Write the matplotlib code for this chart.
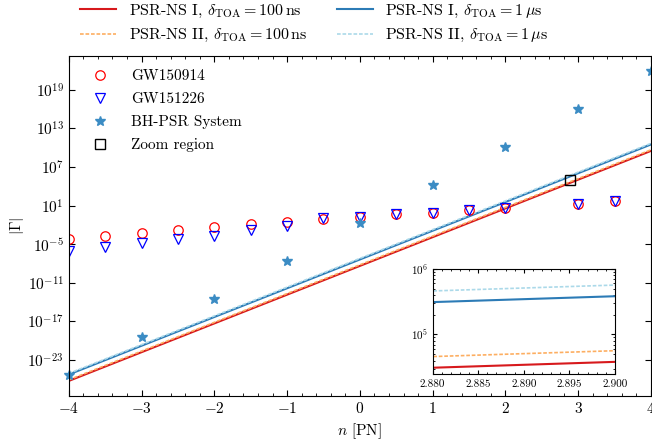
import numpy as np
import matplotlib
matplotlib.use("Agg")
import matplotlib.pyplot as plt
from matplotlib.ticker import FixedLocator, NullLocator, MultipleLocator, FormatStrFormatter

plt.rcParams['font.family'] = 'serif'
plt.rcParams['font.serif'] = ['cmr10']
plt.rcParams['mathtext.fontset'] = 'cm'
plt.rcParams['axes.formatter.use_mathtext'] = True
plt.rcParams['axes.unicode_minus'] = True

# GW events (log10 |Gamma|)
n_gw = [-4, -3.5, -3, -2.5, -2, -1.5, -1, -0.5, 0, 0.5, 1, 1.5, 2, 3, 3.5]
log_gw150914 = [-4.19, -3.67, -3.25, -2.84, -2.37, -1.90, -1.54, -1.12, -0.71, -0.34, -0.09, 0.33, 0.62, 1.30, 1.75]
log_gw151226 = [-6.00, -5.48, -4.86, -4.24, -3.67, -2.78, -2.11, -0.97, -0.72, -0.28, -0.09, 0.30, 0.62, 1.28, 1.75]

# BH-PSR system
n_bhpsr = [-4, -3, -2, -1, 0, 1, 2, 3, 4]
log_bhpsr = [-25.26, -19.4, -13.53, -7.57, -1.65, 4.22, 10.1, 16.0, 21.9]

# PSR-NS bounds (endpoints at n = -4 and n = 4)
n_line = [-4, 4]
log_psrns1_100ns = [-26.26, 9.50]
log_psrns2_100ns = [-26.09, 9.67]
log_psrns1_1us = [-25.26, 10.50]
log_psrns2_1us = [-25.09, 10.67]

# zoom region marker
n_zoom = [2.89]
log_zoom = [5.0]

c_red = '#d7191c'
c_orange = '#fdae61'
c_blue = '#2c7bb6'
c_lblue = '#abd9e9'
c_star = '#3b8cc4'
dash = (0, (2.2, 1.1))

fig = plt.figure(figsize=(6.52, 4.43), dpi=100)
ax = fig.add_axes([0.1054, 0.1068, 0.893, 0.7675])


def pw(v):
    return 10.0 ** np.array(v)


def draw_lines(a):
    l1, = a.plot(n_line, pw(log_psrns1_100ns), color=c_red, lw=1.5,
                 label=r'PSR-NS I, $\delta_{\rm TOA} = 100\,{\rm ns}$')
    l2, = a.plot(n_line, pw(log_psrns2_100ns), color=c_orange, lw=1.2, ls=dash,
                 label=r'PSR-NS II, $\delta_{\rm TOA} = 100\,{\rm ns}$')
    l3, = a.plot(n_line, pw(log_psrns1_1us), color=c_blue, lw=1.5,
                 label=r'PSR-NS I, $\delta_{\rm TOA} = 1\,\mu{\rm s}$')
    l4, = a.plot(n_line, pw(log_psrns2_1us), color=c_lblue, lw=1.2, ls=dash,
                 label=r'PSR-NS II, $\delta_{\rm TOA} = 1\,\mu{\rm s}$')
    return [l1, l2, l3, l4]


lines = draw_lines(ax)

p1, = ax.plot(n_gw, pw(log_gw150914), 'o', mfc='none', mec='red', ms=6.8, mew=0.9,
              label='GW150914', ls='none')
p2, = ax.plot(n_gw, pw(log_gw151226), 'v', mfc='none', mec='blue', ms=6.8, mew=0.9,
              label='GW151226', ls='none')
p3, = ax.plot(n_bhpsr, pw(log_bhpsr), '*', color=c_star, ms=7.5, ls='none',
              label='BH-PSR System', clip_on=False)
p4, = ax.plot(n_zoom, pw(log_zoom), 's', mfc='none', mec='black', ms=7, mew=1.0,
              ls='none', label='Zoom region')

ax.set_yscale('log')
ax.set_xlim(-4, 4)
ax.set_ylim(10 ** -28.55, 10 ** 24.3)
ax.yaxis.set_major_locator(FixedLocator(10.0 ** np.arange(-23, 20, 6)))
ax.yaxis.set_minor_locator(NullLocator())
ax.xaxis.set_major_locator(MultipleLocator(1))
ax.xaxis.set_minor_locator(MultipleLocator(0.2))
ax.tick_params(which='both', direction='in', top=True, right=True, labelsize=11)
ax.tick_params(which='major', length=4)
ax.tick_params(which='minor', length=2)
ax.set_xlabel(r'$n$ [PN]', fontsize=11)
ax.set_ylabel(r'$|\Gamma|$', fontsize=11)
ax.yaxis.set_label_coords(-0.073, 0.5)

ax.legend(handles=[p1, p2, p3, p4], loc='upper left', frameon=False, fontsize=11,
          bbox_to_anchor=(0.0, 1.007), borderaxespad=0.65, labelspacing=0.6,
          handletextpad=1.03)
fig.legend(handles=lines, loc='upper left', ncol=2, frameon=False, fontsize=11.5,
           bbox_to_anchor=(0.1005, 1.026), handlelength=2.25, labelspacing=0.46,
           columnspacing=1.85)

# inset
axin = ax.inset_axes([0.625, 0.063, 0.313, 0.31])
draw_lines(axin)
axin.set_yscale('log')
axin.set_xlim(2.88, 2.90)
axin.set_ylim(10 ** 4.394, 1e6)
axin.xaxis.set_major_locator(MultipleLocator(0.005))
axin.xaxis.set_minor_locator(MultipleLocator(0.001))
axin.xaxis.set_major_formatter(FormatStrFormatter('%.3f'))
axin.tick_params(which='both', direction='in', top=True, right=True, labelsize=8)
axin.tick_params(which='major', length=3)
axin.tick_params(which='minor', length=1.5)

fig.savefig('out.png', dpi=100)
